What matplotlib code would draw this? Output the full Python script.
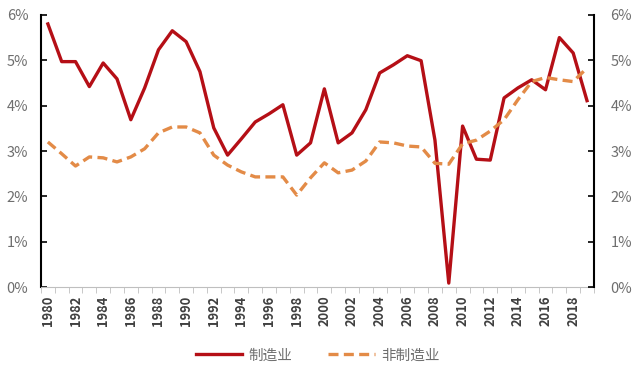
import matplotlib
matplotlib.use("Agg")
import matplotlib.pyplot as plt
from matplotlib.ticker import FixedLocator, PercentFormatter

plt.rcParams['font.family'] = ['Noto Sans CJK SC', 'DejaVu Sans']

# Data (share of growth, %)
years = list(range(1980, 2020))
manufacturing = [5.80, 4.97, 4.97, 4.42, 4.94, 4.59, 3.69, 4.39, 5.23, 5.65,
                 5.41, 4.75, 3.51, 2.91, 3.27, 3.64, 3.82, 4.02, 2.91, 3.18,
                 4.37, 3.18, 3.40, 3.91, 4.72, 4.90, 5.10, 4.99, 3.24, 0.09,
                 3.55, 2.82, 2.80, 4.17, 4.39, 4.57, 4.35, 5.50, 5.16, 4.11]
non_manufacturing = [3.20, 2.94, 2.67, 2.87, 2.85, 2.76, 2.87, 3.05, 3.40, 3.53,
                     3.53, 3.40, 2.91, 2.69, 2.54, 2.43, 2.43, 2.43, 2.03, 2.41,
                     2.74, 2.52, 2.58, 2.78, 3.20, 3.18, 3.11, 3.09, 2.73, 2.71,
                     3.16, 3.24, 3.44, 3.69, 4.13, 4.53, 4.62, 4.57, 4.53, 4.83]
series_labels = ["制造业", "非制造业"]
ytick_values = [0, 1, 2, 3, 4, 5, 6]

red = "#B50F16"
orange = "#E38B47"
gray = "#6E6E6E"

fig = plt.figure(figsize=(6.4, 3.72), dpi=100)
ax = fig.add_axes([0.064, 0.228, 0.864, 0.732])

x = list(range(len(years)))
ax.plot(x, manufacturing, "-", color=red, linewidth=2.4, label=series_labels[0])
ax.plot(x, non_manufacturing, "--", color=orange, linewidth=2.4,
        dashes=(3, 1.6), label=series_labels[1])

ax.set_xlim(-0.5, len(years) - 0.5)
ax.set_ylim(0, 6)
ax.yaxis.set_major_locator(FixedLocator(ytick_values))
ax.yaxis.set_major_formatter(PercentFormatter(decimals=0))

# Category axis: labels every 2 years, tick marks between categories
ax.set_xticks(x[::2])
ax.set_xticklabels([str(y) for y in years[::2]], rotation=90,
                   fontsize=9.3, color="#404040", fontweight="bold")
ax.set_xticks([i - 0.5 for i in range(len(years) + 1)], minor=True)
ax.tick_params(axis="x", which="major", length=0, pad=6)
ax.tick_params(axis="x", which="minor", length=4, color="#BFBFBF", direction="out")

ax.tick_params(axis="y", direction="in", length=4, width=1.2, color="black",
               labelsize=10.5, labelcolor=gray, pad=9)

ax.spines["top"].set_visible(False)
ax.spines["right"].set_visible(False)
ax.spines["left"].set_linewidth(1.5)
ax.spines["bottom"].set_color("#BFBFBF")

ax2 = ax.twinx()
ax2.set_ylim(0, 6)
ax2.yaxis.set_major_locator(FixedLocator(ytick_values))
ax2.yaxis.set_major_formatter(PercentFormatter(decimals=0))
ax2.tick_params(axis="y", direction="in", length=4, width=1.2, color="black",
                labelsize=10.5, labelcolor=gray, pad=12)
ax2.spines["top"].set_visible(False)
ax2.spines["left"].set_visible(False)
ax2.spines["bottom"].set_visible(False)
ax2.spines["right"].set_linewidth(1.5)

leg = ax.legend(loc="center", bbox_to_anchor=(0.5, -0.25), ncol=2, frameon=False,
                fontsize=10.5, handlelength=3.2, columnspacing=2.5, handletextpad=0.4)
for t in leg.get_texts():
    t.set_color(gray)

fig.savefig("out.png", dpi=100)
